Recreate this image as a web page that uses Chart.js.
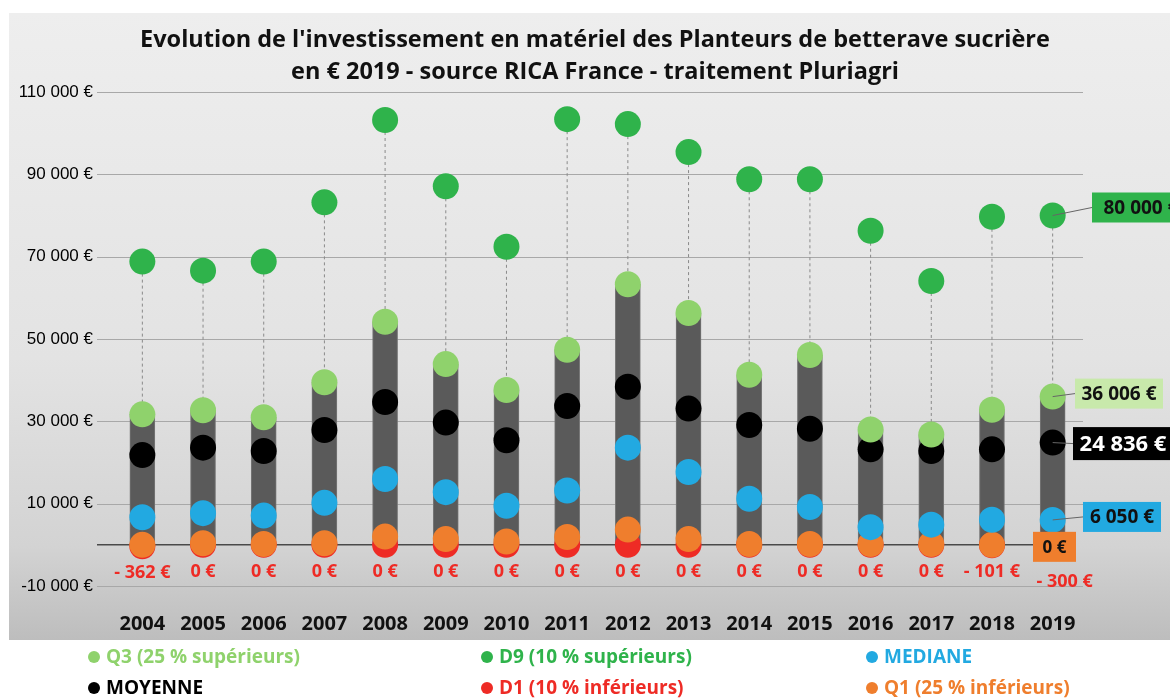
<!DOCTYPE html>
<html>
<head>
<meta charset="utf-8">
<script src="https://cdn.jsdelivr.net/npm/chart.js@4.4.1/dist/chart.umd.min.js"></script>
<style>
  html, body { margin: 0; padding: 0; background: #fff; }
</style>
</head>
<body>
<canvas id="chart" width="1170" height="699"></canvas>
<script>
// values (€ 2019)
const years = ['2004', '2005', '2006', '2007', '2008', '2009', '2010', '2011', '2012', '2013', '2014', '2015', '2016', '2017', '2018', '2019']
const d9 = [68800, 66600, 68800, 83200, 103200, 87100, 72400, 103400, 102200, 95400, 88800, 88800, 76300, 64100, 79700, 80000]
const q3 = [31700, 32700, 31000, 39500, 54200, 43900, 37600, 47400, 63300, 56300, 41300, 46100, 28000, 26800, 32800, 36006]
const moyenne = [21800, 23600, 22800, 27900, 34700, 29700, 25400, 33700, 38400, 33100, 29100, 28200, 23200, 22800, 23200, 24836]
const mediane = [6700, 7700, 7100, 10200, 16000, 12800, 9500, 13200, 23600, 17700, 11200, 9200, 4300, 4900, 6100, 6050]
const q1 = [0, 400, 200, 400, 2000, 1400, 800, 1900, 3700, 1400, 200, 200, 200, 200, 0, 0]
const d1 = [-362, 0, 0, 0, 0, 0, 0, 0, 0, 0, 0, 0, 0, 0, -101, -300]
const yTicks = [-10000, 10000, 30000, 50000, 70000, 90000, 110000]

const title = [
  "Evolution de l'investissement en matériel des Planteurs de betterave sucrière",
  "en € 2019 - source RICA France - traitement Pluriagri"
]

const colD9 = '#2fb34b'
const colQ3 = '#8fd26c'
const colMoy = '#000000'
const colMed = '#22a9e1'
const colD1 = '#ee2b25'
const colQ1 = '#ef7e2d'

function euro(v) {
  let s = String(Math.abs(v)).replace(/\B(?=(\d{3})+(?!\d))/g, ' ')
  return (v < 0 ? '-' : '') + s + ' €'
}

function pts(label, data, color, order) {
  return {
    type: 'line',
    label: label,
    data: data,
    showLine: false,
    order: order,
    backgroundColor: color,
    borderColor: color,
    pointRadius: 13,
    pointHoverRadius: 13,
    pointBorderWidth: 0
  }
}

const decor = {
  id: 'decor',
  beforeDraw(chart) {
    const c = chart.ctx
    c.save()
    c.fillStyle = '#fff'
    c.fillRect(0, 0, chart.width, chart.height)
    let g = c.createLinearGradient(0, 13, 0, 640)
    g.addColorStop(0, '#eeeeee')
    g.addColorStop(0.55, '#e3e3e3')
    g.addColorStop(0.85, '#d3d3d3')
    g.addColorStop(1, '#bdbdbd')
    c.fillStyle = g
    c.fillRect(9, 13, chart.width - 9, 627)
    // title
    c.fillStyle = '#111'
    c.font = 'bold 23.5px "Open Sans"'
    c.textAlign = 'center'
    c.textBaseline = 'middle'
    c.fillText(title[0], 595, 40)
    c.fillText(title[1], 595, 72)
    c.restore()
  },
  beforeDatasetsDraw(chart) {
    const c = chart.ctx
    const y = chart.scales.y
    const area = chart.chartArea
    c.save()
    // grid lines
    c.strokeStyle = '#a8a8a8'
    c.lineWidth = 1
    y.ticks.forEach(t => {
      const py = Math.round(y.getPixelForValue(t.value)) + 0.5
      c.beginPath()
      c.moveTo(area.left - 15, py)
      c.lineTo(area.right, py)
      c.stroke()
    })
    // zero line
    c.strokeStyle = '#4a4a4a'
    c.lineWidth = 1.5
    c.beginPath()
    c.moveTo(area.left - 15, y.getPixelForValue(0))
    c.lineTo(area.right - 50, y.getPixelForValue(0))
    c.stroke()
    // dotted links Q3 -> D9
    const top = chart.getDatasetMeta(0).data
    const low = chart.getDatasetMeta(1).data
    c.strokeStyle = '#8a8a8a'
    c.lineWidth = 1
    c.setLineDash([3, 3])
    top.forEach((p, i) => {
      c.beginPath()
      c.moveTo(p.x, p.y)
      c.lineTo(low[i].x, low[i].y)
      c.stroke()
    })
    c.restore()
  },
  afterDatasetsDraw(chart) {
    const c = chart.ctx
    c.save()
    // D1 labels
    const red = chart.getDatasetMeta(5).data
    c.font = 'bold 18px "Open Sans"'
    c.fillStyle = colD1
    c.textAlign = 'center'
    c.textBaseline = 'middle'
    red.forEach((p, i) => {
      let dx = i === red.length - 1 ? 12 : 0
      let dy = i === red.length - 1 ? 36 : 27
      let t = d1[i] < 0 ? '- ' + euro(-d1[i]) : euro(d1[i])
      c.fillText(t, p.x + dx, p.y + dy)
    })

    // 2019 value boxes
    const last = years.length - 1
    const boxes = [
      { ds: 0, x: 1092, w: 90, dy: -8, bg: colD9, fg: '#111', size: 19 },
      { ds: 1, x: 1075, w: 88, dy: -3, bg: '#c8e9ab', fg: '#111', size: 19 },
      { ds: 2, x: 1073, w: 100, dy: 1, bg: '#000', fg: '#fff', size: 22 },
      { ds: 3, x: 1083, w: 78, dy: -3, bg: colMed, fg: '#111', size: 19 },
      { ds: 4, x: 1033, w: 43, dy: 2, bg: colQ1, fg: '#111', size: 17 }
    ]
    boxes.forEach(b => {
      const p = chart.getDatasetMeta(b.ds).data[last]
      const v = chart.data.datasets[b.ds].data[last]
      const cy = p.y + b.dy
      const h = b.size === 22 ? 33 : 30
      c.strokeStyle = '#666'
      c.lineWidth = 1
      c.setLineDash([])
      c.beginPath()
      c.moveTo(p.x, p.y)
      c.lineTo(b.x, cy)
      c.stroke()
      c.fillStyle = b.bg
      c.fillRect(b.x, cy - h / 2, b.w, h)
      c.fillStyle = b.fg
      c.font = 'bold ' + b.size + 'px "Open Sans"'
      c.textAlign = 'center'
      c.fillText(euro(v), b.x + b.w / 2 + (b.ds === 0 ? 4 : 0), cy + 1)
    })

    // legend, three columns
    const cols = [94, 487, 872]
    const rows = [657, 688]
    const order = [1, 0, 3, 2, 5, 4]
    c.fillStyle = '#fff'
    c.fillRect(0, 640, chart.width, chart.height - 640)
    c.font = 'bold 19px "Open Sans"'
    c.textAlign = 'left'
    order.forEach((ds, k) => {
      const d = chart.data.datasets[ds]
      const x = cols[k % 3]
      const y = rows[Math.floor(k / 3)]
      c.fillStyle = d.backgroundColor
      c.beginPath()
      c.arc(x, y, 6, 0, Math.PI * 2)
      c.fill()
      c.fillText(d.label, x + 12, y + 1)
    })
    c.restore()
  }
}

const ctx = document.getElementById('chart').getContext('2d')
const chart = new Chart(ctx, {
  type: 'bar',
  data: {
    labels: years,
    datasets: [
      pts('D9 (10 % supérieurs)', d9, colD9, 0),
      pts('Q3 (25 % supérieurs)', q3, colQ3, 1),
      pts('MOYENNE', moyenne, colMoy, 2),
      pts('MEDIANE', mediane, colMed, 3),
      pts('Q1 (25 % inférieurs)', q1, colQ1, 4),
      pts('D1 (10 % inférieurs)', d1, colD1, 5),
      {
        type: 'bar',
        label: 'Q1 - Q3',
        data: q3,
        order: 6,
        backgroundColor: '#5a5a5a',
        borderColor: '#767676',
        borderWidth: 1,
        barThickness: 25
      }
    ]
  },
  options: {
    responsive: false,
    animation: false,
    devicePixelRatio: 1,
    layout: { padding: { top: 92, right: 87, bottom: 59, left: 0 } },
    plugins: {
      legend: { display: false },
      tooltip: { enabled: false },
      title: { display: false }
    },
    scales: {
      x: {
        grid: { display: false },
        border: { display: false },
        ticks: {
          color: '#111',
          padding: 18,
          font: { family: 'Open Sans', size: 20, weight: 'bold' }
        },
        afterFit(scale) { scale.height = 54 }
      },
      y: {
        min: -10000,
        max: 110000,
        afterBuildTicks(scale) { scale.ticks = yTicks.map(v => ({ value: v })) },
        grid: { display: false },
        border: { display: false },
        ticks: {
          color: '#000',
          padding: 11,
          font: { family: 'Liberation Sans', size: 17 },
          callback: v => euro(v)
        },
        afterFit(scale) { scale.width = 112 }
      }
    }
  },
  plugins: [decor]
})
</script>
</body>
</html>
